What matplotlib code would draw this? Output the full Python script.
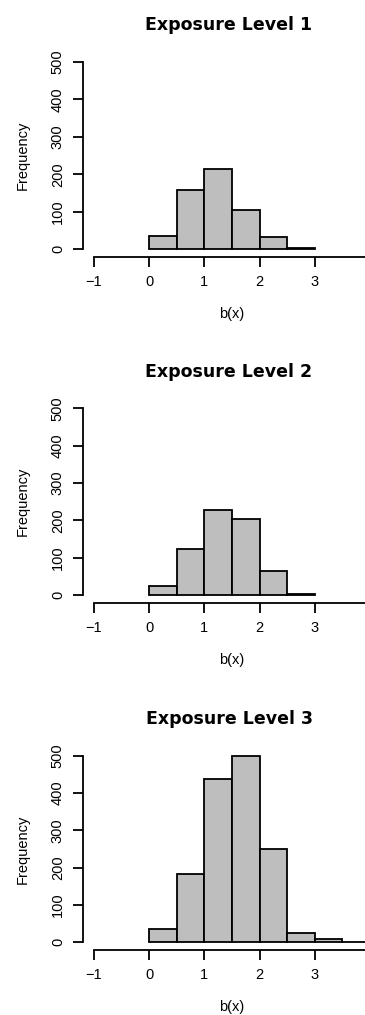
import matplotlib
matplotlib.use("Agg")
import matplotlib.pyplot as plt

plt.rcParams["font.family"] = ["Liberation Sans", "DejaVu Sans"]

# histogram bin edges (each panel uses as many bins as it has counts)
bin_edges = [0.0, 0.5, 1.0, 1.5, 2.0, 2.5, 3.0, 3.5, 4.0]

# counts per bin
counts_level1 = [35, 157, 213, 103, 32, 3]
counts_level2 = [24, 124, 228, 203, 65, 3]
counts_level3 = [36, 184, 438, 499, 251, 25, 9, 1]

titles = ["Exposure Level 1", "Exposure Level 2", "Exposure Level 3"]
x_ticks = [-1, 0, 1, 2, 3, 4]
y_ticks = [0, 100, 200, 300, 400, 500]

W, H = 365, 1015
fig = plt.figure(figsize=(W / 100, H / 100), dpi=100)

# plot-region boxes in pixels (left, top, right, bottom), R style
boxes = [(83, 54.5, 381, 256.5), (83, 401, 381, 602.5), (83, 748.5, 381, 949.5)]

for counts, title, (l, t, r, b) in zip(
    [counts_level1, counts_level2, counts_level3], titles, boxes
):
    ax = fig.add_axes([l / W, 1 - b / H, (r - l) / W, (b - t) / H])
    n = len(counts)
    widths = [bin_edges[i + 1] - bin_edges[i] for i in range(n)]
    ax.bar(
        bin_edges[:n],
        counts,
        width=widths,
        align="edge",
        color="#bebebe",
        edgecolor="black",
        linewidth=1.3,
    )
    ax.set_xlim(-1.2, 4.2)
    ax.set_ylim(-20, 520)

    for side in ["top", "right"]:
        ax.spines[side].set_visible(False)
    ax.spines["left"].set_bounds(0, 500)
    ax.spines["bottom"].set_bounds(-1, 4)
    ax.spines["left"].set_linewidth(1.3)
    ax.spines["bottom"].set_linewidth(1.3)

    ax.set_xticks(x_ticks)
    ax.set_yticks(y_ticks)
    ax.set_yticklabels([str(v) for v in y_ticks], rotation=90, va="center")
    ax.tick_params(axis="both", length=7, width=1.3, labelsize=10.5, pad=6, colors="black")

    ax.set_xlabel("b(x)", fontsize=10.5, labelpad=13)
    ax.set_ylabel("Frequency", fontsize=10.5, labelpad=15)
    # title centred over the full plot region (figure is cropped on the right)
    fig.text(229 / W, 1 - (t - 29) / H, title,
             ha="center", va="center", fontsize=12.5, fontweight="bold",
             family=["DejaVu Sans"])

fig.savefig("out.png", dpi=100)
